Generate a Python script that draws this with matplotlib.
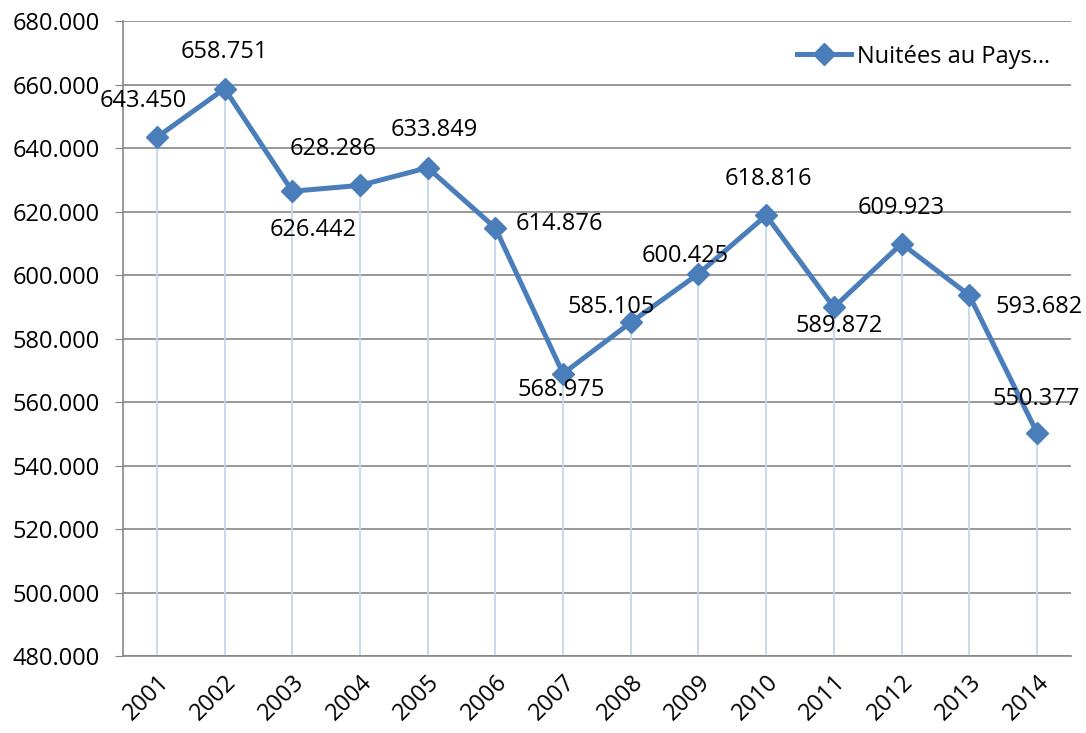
import matplotlib.pyplot as plt
import numpy as np

years = ['2001', '2002', '2003', '2004', '2005', '2006', '2007',
         '2008', '2009', '2010', '2011', '2012', '2013', '2014']
nuitees = [643450, 658751, 626442, 628286, 633849, 614876, 568975,
           585105, 600425, 618816, 589872, 609923, 593682, 550377]
series_name = 'Nuitées au Pays…'

# label offsets in pixels (dx, dy)
offsets = [(-14, 36), (0, 37), (21, -39), (-27, 36), (7, 38), (64, 4), (-2, -16),
           (-20, 15), (-13, 18), (2, 36), (5, -19), (0, 36), (70, -12), (-1, 34)]


def fmt(v):
    return '{:,}'.format(int(v)).replace(',', '.')


plt.rcParams['font.family'] = ['Open Sans', 'DejaVu Sans']

fig = plt.figure(figsize=(10.86, 7.33), dpi=100)
ax = fig.add_axes([0.1133, 0.105, 0.8727, 0.866])

x = np.arange(len(years))
line_col = '#4a7ebb'

ax.vlines(x, 480000, nuitees, color='#c6d6ea', lw=1.3, zorder=1)
ax.plot(x, nuitees, color=line_col, lw=3.6, marker='D', ms=11,
        label=series_name, zorder=3)

for xi, v, (dx, dy) in zip(x, nuitees, offsets):
    ax.annotate(fmt(v), (xi, v), xytext=(dx, dy), textcoords='offset pixels',
                ha='center', va='center', fontsize=17, color='black', zorder=4)

ax.set_xlim(-0.5, len(years) - 0.5)
ax.set_ylim(480000, 680000)
ax.set_yticks(np.arange(480000, 680001, 20000))
ax.set_yticklabels([fmt(t) for t in np.arange(480000, 680001, 20000)], fontsize=17)
ax.set_xticks(x)
ax.set_xticklabels(years, rotation=45, ha='right', rotation_mode='anchor', fontsize=17)

ax.yaxis.grid(True, color='#868686', lw=1.2)
ax.set_axisbelow(True)
for s in ['top', 'right']:
    ax.spines[s].set_visible(False)
for s in ['left', 'bottom']:
    ax.spines[s].set_color('#868686')
    ax.spines[s].set_linewidth(1.2)
ax.tick_params(axis='y', length=6, color='#868686', pad=11)
ax.tick_params(axis='x', length=0, pad=10)

leg = ax.legend(loc='upper left', bbox_to_anchor=(0.711, 0.963), frameon=False,
                fontsize=17, handlelength=2.3, handletextpad=0.25,
                borderaxespad=0, borderpad=0)

fig.savefig('out.png', dpi=100)
